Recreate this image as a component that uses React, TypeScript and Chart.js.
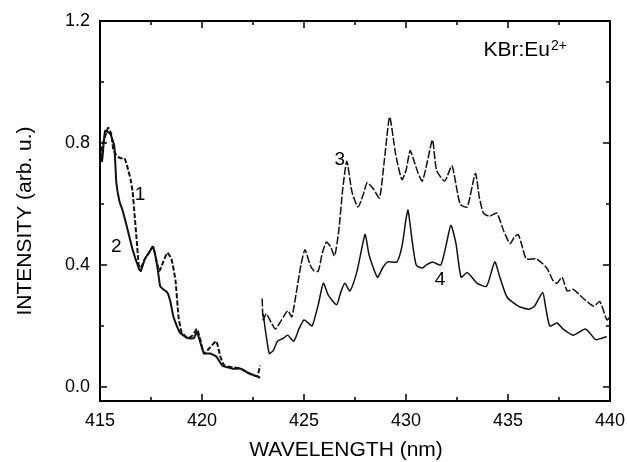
import React, { useEffect, useRef } from "react";
import { Chart, registerables } from "chart.js";
Chart.register(...registerables);

const wl1 = [415.0,415.15,415.4,415.55,415.65,415.8,416.0,416.2,416.35,416.5,416.6,416.7,416.8,416.9,417.0,417.2,417.4,417.6,417.75,417.9,418.1,418.3,418.5,418.7,418.85,419.0,419.3,419.55,419.75,419.9,420.1,420.4,420.7,420.9,421.1,421.5,421.9,422.3,422.7,422.85];
const int1 = [0.75,0.80,0.85,0.83,0.78,0.76,0.75,0.75,0.72,0.68,0.64,0.56,0.48,0.40,0.39,0.42,0.44,0.46,0.42,0.38,0.41,0.44,0.42,0.35,0.23,0.18,0.16,0.17,0.19,0.16,0.11,0.13,0.15,0.10,0.07,0.065,0.06,0.045,0.035,0.07];

const wl2 = [415.0,415.1,415.25,415.5,415.7,415.8,415.95,416.1,416.3,416.6,416.9,417.0,417.2,417.4,417.6,417.8,417.95,418.1,418.3,418.45,418.6,418.9,419.3,419.6,419.75,419.9,420.1,420.4,420.7,421.0,421.5,421.9,422.3,422.7,422.85];
const int2 = [0.78,0.74,0.84,0.83,0.79,0.67,0.61,0.58,0.53,0.45,0.39,0.38,0.42,0.44,0.46,0.40,0.33,0.32,0.31,0.28,0.23,0.18,0.16,0.16,0.18,0.15,0.11,0.11,0.10,0.07,0.06,0.06,0.045,0.035,0.03];

const wl3 = [422.95,423.0,423.15,423.4,423.6,423.9,424.2,424.4,424.6,424.85,425.05,425.3,425.5,425.7,425.9,426.1,426.3,426.5,426.7,426.9,427.1,427.35,427.65,427.9,428.1,428.4,428.7,428.95,429.2,429.5,429.8,430.0,430.2,430.35,430.6,430.8,431.05,431.3,431.5,431.9,432.25,432.65,433.0,433.4,433.6,433.8,434.1,434.45,434.8,435.1,435.3,435.5,435.7,435.9,436.4,436.9,437.2,437.4,437.65,437.9,438.2,438.7,439.2,439.5,439.85,440.0];
const int3 = [0.29,0.22,0.24,0.21,0.19,0.22,0.25,0.23,0.30,0.40,0.45,0.40,0.38,0.38,0.44,0.475,0.46,0.43,0.51,0.65,0.74,0.64,0.59,0.63,0.67,0.65,0.62,0.75,0.885,0.76,0.68,0.71,0.775,0.75,0.70,0.675,0.74,0.81,0.71,0.675,0.725,0.60,0.59,0.70,0.62,0.57,0.56,0.57,0.51,0.47,0.49,0.50,0.46,0.42,0.42,0.39,0.35,0.34,0.36,0.315,0.32,0.29,0.265,0.28,0.22,0.23];

const wl4 = [423.0,423.1,423.3,423.5,423.7,424.0,424.2,424.5,424.75,425.0,425.2,425.4,425.7,425.95,426.2,426.6,426.8,427.0,427.25,427.6,427.85,428.0,428.2,428.6,428.85,429.1,429.55,429.8,430.0,430.1,430.3,430.5,430.8,431.0,431.3,431.7,431.95,432.2,432.45,432.7,433.0,433.5,433.95,434.35,434.6,434.95,435.5,436.0,436.3,436.7,436.85,437.05,437.4,437.7,438.2,438.8,439.3,439.6,439.85];
const int4 = [0.24,0.19,0.11,0.12,0.15,0.16,0.17,0.15,0.19,0.22,0.21,0.20,0.27,0.34,0.30,0.27,0.31,0.34,0.315,0.38,0.46,0.50,0.43,0.36,0.39,0.41,0.41,0.46,0.55,0.58,0.48,0.40,0.39,0.40,0.41,0.40,0.46,0.53,0.47,0.36,0.375,0.34,0.33,0.41,0.36,0.295,0.265,0.255,0.265,0.31,0.26,0.20,0.21,0.19,0.17,0.19,0.155,0.16,0.165];

const xTicks = [415, 420, 425, 430, 435, 440];
const xMinorTicks = [417.5, 422.5, 427.5, 432.5, 437.5];
const yTicks = [0.0, 0.4, 0.8, 1.2];
const yMinorTicks = [0.2, 0.6, 1.0];

const curveLabels = [
  { text: "1", x: 416.96, y: 0.63 },
  { text: "2", x: 415.8, y: 0.46 },
  { text: "3", x: 426.76, y: 0.745 },
  { text: "4", x: 431.67, y: 0.35 },
];

const FONT = "'Liberation Sans', Arial, Helvetica, sans-serif";

const pts = (xs: number[], ys: number[]) => xs.map((x, i) => ({ x, y: ys[i] }));

const framePlugin = {
  id: "frame",
  afterDraw(chart: any) {
    const { ctx, chartArea: a, scales } = chart;
    const xs = scales.x, ys = scales.y;
    ctx.save();
    ctx.strokeStyle = "#000";
    ctx.lineWidth = 2;
    ctx.strokeRect(a.left, a.top, a.right - a.left, a.bottom - a.top);
    ctx.lineWidth = 1.5;
    const tick = (x1: number, y1: number, x2: number, y2: number) => {
      ctx.beginPath(); ctx.moveTo(x1, y1); ctx.lineTo(x2, y2); ctx.stroke();
    };
    xTicks.forEach((v) => {
      const p = xs.getPixelForValue(v);
      tick(p, a.bottom, p, a.bottom - 7);
      tick(p, a.top, p, a.top + 7);
    });
    xMinorTicks.forEach((v) => {
      const p = xs.getPixelForValue(v);
      tick(p, a.bottom, p, a.bottom - 4);
      tick(p, a.top, p, a.top + 4);
    });
    yTicks.forEach((v) => {
      const p = ys.getPixelForValue(v);
      tick(a.left, p, a.left + 7, p);
      tick(a.right, p, a.right - 7, p);
    });
    yMinorTicks.forEach((v) => {
      const p = ys.getPixelForValue(v);
      tick(a.left, p, a.left + 4, p);
      tick(a.right, p, a.right - 4, p);
    });
    ctx.fillStyle = "#000";
    ctx.font = `19px ${FONT}`;
    ctx.textAlign = "center";
    ctx.textBaseline = "middle";
    curveLabels.forEach((l) => {
      ctx.fillText(l.text, xs.getPixelForValue(l.x), ys.getPixelForValue(l.y));
    });
    // material label
    const kx = xs.getPixelForValue(433.8);
    const ky = ys.getPixelForValue(1.105);
    ctx.textAlign = "left";
    ctx.font = `21px ${FONT}`;
    ctx.fillText("KBr:Eu", kx, ky);
    const w = ctx.measureText("KBr:Eu").width;
    ctx.font = `14px ${FONT}`;
    ctx.fillText("2+", kx + w + 1, ky - 4);
    // axis titles
    ctx.font = `21px ${FONT}`;
    ctx.textAlign = "center";
    ctx.fillText("WAVELENGTH (nm)", 346, 450);
    ctx.save();
    ctx.translate(25, 221);
    ctx.rotate(-Math.PI / 2);
    ctx.fillText("INTENSITY (arb. u.)", 0, 0);
    ctx.restore();
    ctx.restore();
  },
};

export default function App() {
  const ref = useRef<HTMLCanvasElement>(null);
  useEffect(() => {
    if (!ref.current) return;
    const chart = new Chart(ref.current, {
      type: "line",
      data: {
        datasets: [
          { label: "1", data: pts(wl1, int1), borderColor: "#111", borderWidth: 2, borderDash: [5, 2], pointRadius: 0, tension: 0.15 },
          { label: "2", data: pts(wl2, int2), borderColor: "#111", borderWidth: 2, pointRadius: 0, tension: 0.15 },
          { label: "3", data: pts(wl3, int3), borderColor: "#111", borderWidth: 1.5, borderDash: [8, 2], pointRadius: 0, tension: 0.2 },
          { label: "4", data: pts(wl4, int4), borderColor: "#111", borderWidth: 1.5, pointRadius: 0, tension: 0.2 },
        ],
      },
      options: {
        animation: false,
        responsive: false,
        maintainAspectRatio: false,
        layout: { padding: { top: 21, right: 17, left: 0, bottom: 0 } },
        plugins: { legend: { display: false }, tooltip: { enabled: false } },
        scales: {
          x: {
            type: "linear",
            min: 415,
            max: 440,
            afterBuildTicks: (s: any) => { s.ticks = xTicks.map((v) => ({ value: v })); },
            afterFit: (s: any) => { s.height = 61; s.paddingLeft = 0; s.paddingRight = 0; },
            grid: { display: false, drawTicks: false },
            border: { display: false },
            ticks: { color: "#000", font: { family: FONT, size: 18 }, padding: 9, callback: (v: any) => String(v) },
          },
          y: {
            type: "linear",
            min: -0.046,
            max: 1.2,
            afterBuildTicks: (s: any) => { s.ticks = yTicks.map((v) => ({ value: v })); },
            afterFit: (s: any) => { s.width = 100; s.paddingTop = 0; s.paddingBottom = 0; },
            grid: { display: false, drawTicks: false },
            border: { display: false },
            ticks: { color: "#000", font: { family: FONT, size: 18 }, padding: 10, callback: (v: any) => Number(v).toFixed(1) },
          },
        },
      },
      plugins: [framePlugin],
    });
    return () => chart.destroy();
  }, []);
  return (
    <div style={{ position: "fixed", left: 0, top: 0, width: 627, height: 462, background: "#fff" }}>
      <canvas ref={ref} width={627} height={462} />
    </div>
  );
}
